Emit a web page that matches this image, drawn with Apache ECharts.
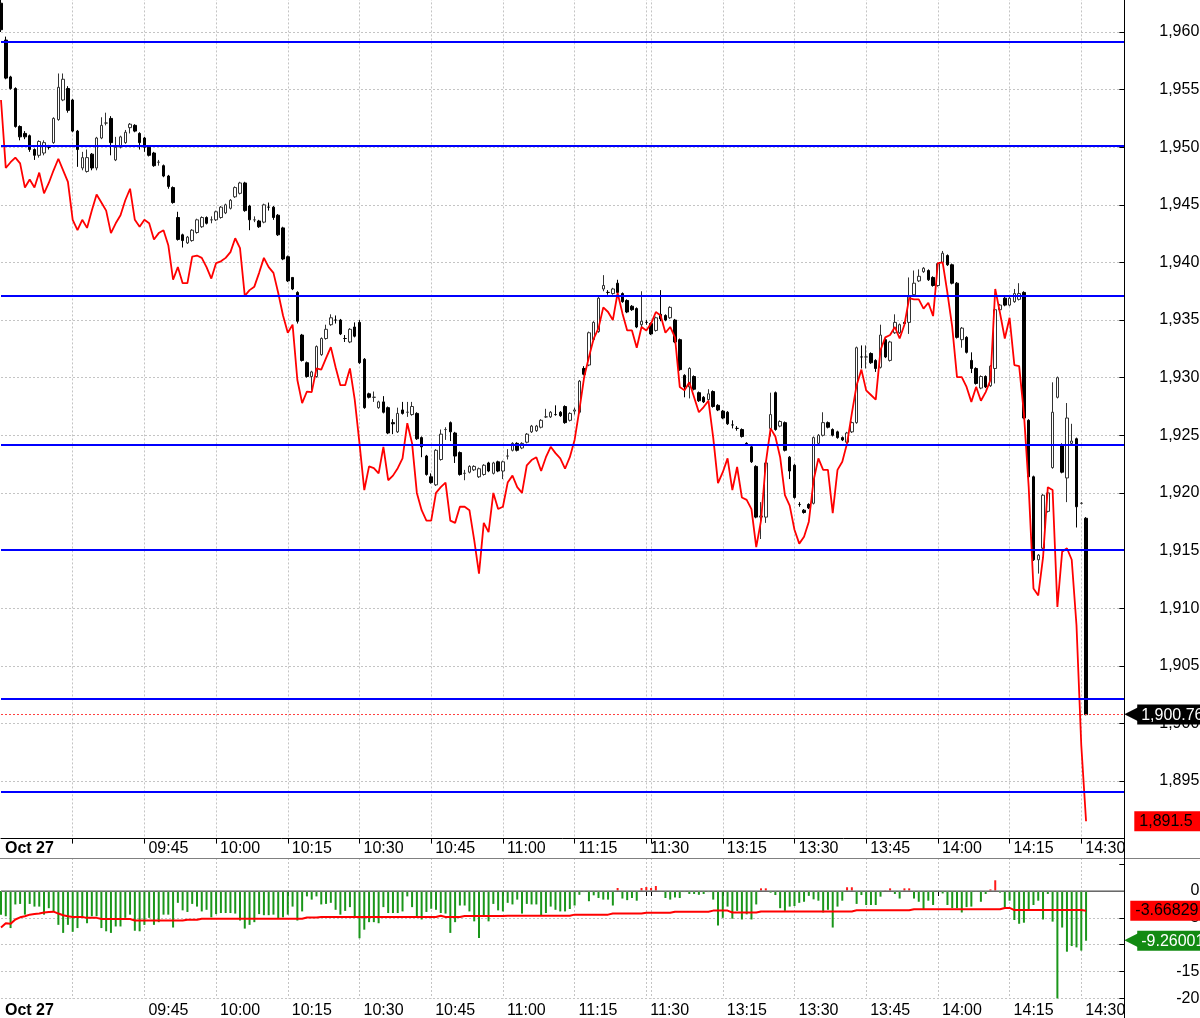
<!DOCTYPE html>
<html>
<head>
<meta charset="utf-8">
<title>Oct 27</title>
<script src="https://cdn.jsdelivr.net/npm/echarts@6/dist/echarts.min.js"></script>
<style>
  html, body { margin: 0; padding: 0; background: #fff; }
  #chart { width: 1200px; height: 1018px; }
</style>
</head>
<body>
<div id="chart"></div>
<script>
// trading sessions: [start, number of one-minute slots]
var sessions = [['09:15', 136], ['13:00', 100]];
var dateLabel = 'Oct 27';

// one-minute bars: [open, close, low, high]
var ohlc = [
  [1962.5,1960.2,1960.0,1963.0],[1959.3,1956.0,1955.9,1959.6],[1956.1,1955.1,1955.0,1956.2],[1955.1,1951.8,1951.7,1955.2],
  [1951.8,1950.9,1950.6,1951.9],[1951.2,1950.9,1950.7,1951.4],[1951.0,1949.8,1949.6,1951.1],[1949.8,1949.3,1948.9,1949.9],
  [1949.3,1950.5,1949.1,1950.6],[1949.5,1950.4,1949.3,1950.6],[1950.0,1950.0,1949.8,1950.2],[1950.4,1952.5,1950.3,1952.6],
  [1952.4,1955.2,1952.3,1956.4],[1954.1,1955.9,1954.0,1956.4],[1955.1,1953.2,1953.0,1955.3],[1954.1,1951.4,1951.3,1954.2],
  [1951.4,1949.8,1948.3,1951.5],[1948.2,1949.1,1948.0,1949.6],[1947.9,1949.1,1947.8,1949.8],[1949.4,1948.2,1948.0,1949.5],
  [1948.2,1950.8,1948.0,1950.9],[1950.8,1951.9,1950.7,1952.6],[1952.1,1952.1,1951.9,1953.0],[1952.5,1950.4,1949.3,1952.7],
  [1948.9,1950.0,1948.8,1950.9],[1950.0,1950.9,1949.9,1951.0],[1950.4,1951.3,1950.3,1951.5],[1951.7,1952.0,1951.2,1952.1],
  [1951.9,1951.4,1951.3,1952.0],[1951.2,1950.4,1949.8,1951.3],[1950.8,1950.0,1949.6,1950.9],[1950.0,1949.3,1949.2,1950.1],
  [1949.5,1948.4,1948.3,1949.6],[1948.7,1948.7,1948.4,1948.9],[1948.4,1947.5,1947.4,1948.5],[1947.5,1946.6,1946.4,1947.6],
  [1946.5,1945.2,1945.1,1946.6],[1943.9,1942.0,1941.9,1944.4],[1942.4,1941.9,1941.3,1942.5],[1941.7,1942.2,1941.6,1942.3],
  [1941.9,1942.8,1941.8,1942.9],[1942.6,1943.7,1942.5,1943.8],[1943.1,1943.9,1943.0,1944.0],[1943.9,1943.4,1943.3,1944.0],
  [1943.7,1943.7,1943.4,1944.0],[1943.7,1944.4,1943.6,1944.5],[1943.9,1944.8,1943.8,1944.9],[1944.3,1945.0,1944.2,1945.1],
  [1944.7,1945.4,1944.6,1945.5],[1945.7,1946.5,1945.6,1946.6],[1946.0,1946.9,1945.9,1947.0],[1946.9,1944.5,1944.4,1947.0],
  [1944.9,1943.7,1942.8,1945.0],[1943.7,1943.7,1943.5,1944.0],[1943.6,1943.1,1943.0,1943.7],[1943.5,1945.0,1943.4,1945.1],
  [1944.8,1944.8,1944.5,1945.2],[1944.8,1943.9,1943.7,1944.9],[1944.1,1942.4,1942.3,1944.2],[1943.0,1940.3,1940.2,1943.1],
  [1940.5,1938.4,1938.3,1940.6],[1938.7,1937.7,1937.6,1938.7],[1937.4,1934.9,1934.7,1937.5],[1933.7,1931.5,1931.4,1933.8],
  [1931.3,1930.1,1930.0,1931.4],[1930.1,1930.5,1928.9,1930.6],[1930.1,1932.7,1930.0,1932.8],[1932.0,1933.4,1931.9,1933.5],
  [1933.4,1934.2,1933.3,1934.6],[1934.6,1935.2,1934.5,1935.5],[1935.0,1935.0,1934.7,1935.4],[1935.0,1933.8,1933.7,1935.1],
  [1933.4,1933.4,1933.1,1933.7],[1933.1,1934.2,1933.0,1934.3],[1934.4,1933.6,1933.5,1934.8],[1934.8,1931.3,1931.2,1935.0],
  [1931.6,1927.4,1927.3,1931.7],[1928.6,1928.3,1928.2,1928.7],[1928.3,1928.3,1927.9,1928.8],[1927.4,1927.9,1927.3,1928.0],
  [1927.9,1927.0,1926.9,1928.4],[1927.4,1925.2,1925.1,1927.5],[1926.1,1926.0,1925.1,1926.4],[1925.3,1926.9,1925.2,1927.4],
  [1927.2,1926.9,1926.8,1927.9],[1927.0,1927.0,1926.6,1927.9],[1926.8,1927.5,1926.7,1927.9],[1926.9,1924.7,1924.6,1927.0],
  [1924.8,1924.0,1923.1,1924.9],[1923.2,1921.6,1921.5,1923.3],[1921.4,1920.9,1920.8,1921.7],[1920.7,1923.7,1920.6,1923.8],
  [1922.9,1925.1,1922.8,1925.5],[1925.5,1925.5,1924.6,1925.7],[1926.1,1925.3,1924.5,1926.2],[1925.2,1923.2,1922.6,1925.3],
  [1923.5,1921.6,1921.5,1923.6],[1921.7,1921.7,1921.1,1922.0],[1921.8,1922.3,1921.7,1922.4],[1922.0,1922.3,1921.9,1922.4],
  [1921.4,1922.1,1921.3,1922.2],[1921.6,1922.4,1921.5,1922.5],[1922.6,1921.9,1921.8,1922.7],[1921.7,1922.6,1921.6,1922.7],
  [1922.7,1921.9,1921.8,1922.8],[1921.9,1922.7,1921.2,1922.8],[1923.2,1923.2,1922.9,1923.8],[1923.7,1924.3,1923.6,1924.4],
  [1924.3,1923.7,1923.6,1924.4],[1923.9,1924.3,1923.8,1924.4],[1924.4,1925.1,1924.3,1925.2],[1925.3,1925.8,1925.2,1925.9],
  [1925.4,1925.8,1925.3,1925.9],[1925.7,1926.3,1925.6,1926.4],[1926.6,1926.6,1926.5,1927.3],[1926.6,1927.0,1926.5,1927.1],
  [1926.8,1926.8,1926.7,1927.6],[1927.0,1926.7,1926.6,1927.1],[1927.5,1926.1,1926.0,1927.6],[1926.3,1926.9,1926.2,1927.0],
  [1927.1,1927.2,1926.8,1927.4],[1927.0,1929.7,1926.9,1929.8],[1930.8,1930.3,1930.2,1931.0],[1931.1,1933.9,1931.0,1934.0],
  [1933.3,1934.8,1933.2,1934.9],[1934.0,1936.9,1933.9,1937.0],[1937.7,1938.0,1937.5,1938.9],[1937.4,1937.4,1937.2,1937.6],
  [1937.3,1937.7,1937.2,1937.8],[1938.2,1937.4,1937.2,1938.5],[1937.3,1936.6,1936.5,1937.4],[1936.7,1935.7,1935.6,1936.8],
  [1936.2,1935.9,1935.8,1936.3],[1936.0,1934.4,1934.3,1936.1],[1934.6,1934.9,1934.3,1937.5],[1934.8,1934.8,1934.6,1935.0],
  [1934.7,1933.8,1933.7,1934.8],[1934.1,1935.2,1934.0,1935.3],[1935.5,1935.1,1934.9,1937.6],[1935.4,1935.0,1934.9,1935.5],
  [1935.2,1936.1,1935.1,1936.2],[1935.0,1933.1,1933.0,1935.1],[1933.3,1930.7,1930.6,1933.4],[1930.2,1929.2,1928.3,1930.3],
  [1929.2,1930.8,1928.2,1930.9],[1930.1,1929.0,1928.9,1930.2],[1928.7,1928.0,1927.9,1928.8],[1928.3,1927.9,1927.8,1928.4],
  [1928.1,1928.6,1928.0,1929.0],[1928.8,1927.5,1927.4,1928.9],[1927.6,1927.2,1927.1,1927.7],[1927.1,1926.5,1926.4,1927.2],
  [1927.0,1926.0,1925.9,1927.1],[1925.9,1925.9,1925.6,1926.3],[1925.6,1925.6,1925.4,1925.8],[1925.5,1924.9,1924.8,1925.6],
  [1924.3,1924.2,1924.1,1924.4],[1924.0,1922.7,1922.6,1924.1],[1922.3,1917.9,1917.8,1922.4],[1917.9,1918.0,1916.0,1919.2],
  [1917.9,1922.6,1917.4,1922.7],[1925.6,1926.8,1924.9,1928.7],[1928.7,1925.5,1925.4,1928.8],[1925.8,1926.2,1925.7,1926.3],
  [1926.1,1923.7,1923.6,1926.2],[1923.1,1921.9,1921.2,1923.2],[1922.4,1919.6,1919.5,1922.5],[1919.0,1919.0,1918.8,1919.2],
  [1918.5,1918.3,1918.2,1918.6],[1919.0,1918.7,1918.6,1919.1],[1919.1,1924.8,1919.0,1924.9],[1924.3,1925.0,1924.2,1925.1],
  [1925.0,1926.1,1924.9,1927.0],[1926.1,1925.7,1925.6,1926.2],[1925.5,1925.0,1924.9,1925.6],[1925.3,1924.8,1924.7,1925.4],
  [1924.8,1924.6,1924.5,1924.9],[1924.4,1925.2,1924.3,1925.3],[1925.3,1926.1,1925.2,1926.2],[1926.1,1932.6,1926.0,1932.7],
  [1931.8,1931.8,1930.8,1932.8],[1931.8,1931.8,1930.8,1932.8],[1932.1,1931.3,1931.2,1932.2],[1931.5,1930.8,1930.5,1931.6],
  [1930.9,1933.7,1930.8,1934.6],[1933.3,1931.8,1931.7,1933.4],[1931.5,1933.1,1931.4,1933.2],[1933.9,1934.8,1933.8,1935.5],
  [1933.9,1934.6,1933.8,1934.7],[1934.8,1934.7,1934.6,1934.9],[1934.8,1937.0,1933.8,1938.7],[1937.2,1938.2,1937.1,1939.3],
  [1938.4,1938.8,1938.3,1939.4],[1939.2,1939.5,1939.1,1939.6],[1939.3,1938.5,1938.4,1939.4],[1938.7,1938.0,1937.9,1938.8],
  [1938.0,1939.9,1937.9,1940.0],[1940.0,1940.8,1939.9,1941.0],[1940.6,1939.8,1939.7,1940.7],[1939.8,1938.2,1938.1,1939.9],
  [1938.2,1933.5,1933.4,1938.3],[1933.3,1934.3,1932.6,1934.4],[1933.5,1932.2,1932.1,1933.6],[1931.5,1930.8,1930.4,1932.2],
  [1930.8,1929.5,1929.4,1930.9],[1929.1,1930.1,1929.0,1930.2],[1930.1,1929.2,1929.1,1930.2],[1929.3,1931.0,1929.2,1931.1],
  [1930.8,1935.9,1929.5,1936.0],[1935.9,1936.3,1935.8,1936.4],[1936.9,1936.3,1936.2,1937.0],[1936.3,1936.9,1936.2,1937.0],
  [1936.6,1937.3,1936.5,1937.7],[1936.8,1937.3,1936.7,1938.2],[1937.4,1926.5,1926.4,1937.5],[1926.3,1921.4,1921.3,1926.4],
  [1921.4,1914.2,1914.1,1921.5],[1914.2,1914.6,1913.0,1914.7],[1915.2,1919.8,1915.1,1919.9],[1918.4,1920.0,1918.3,1920.1],
  [1922.2,1927.0,1922.1,1929.6],[1928.3,1930.0,1928.2,1930.1],[1924.2,1921.8,1921.7,1924.3],[1921.3,1926.5,1919.2,1927.8],
  [1924.3,1924.5,1924.2,1926.0],[1924.7,1918.8,1917.0,1924.8],[1919.1,1919.1,1919.0,1919.2],[1917.8,1900.76,1900.7,1917.9]
];

// red overlay line, one value per bar
var redLine = [
  1954.1,1948.2,1948.7,1949.1,1948.6,1946.5,1947.2,1946.5,1947.8,1946.0,1946.9,1948.0,1949.0,1948.0,1947.0,1943.7,
  1942.8,1943.7,1943.0,1944.5,1945.9,1945.2,1944.5,1942.55,1943.4,1944.1,1945.4,1946.4,1943.7,1943.1,1943.7,1943.4,
  1942.0,1942.55,1942.8,1941.5,1938.5,1939.6,1938.2,1938.2,1940.5,1940.6,1940.4,1939.6,1938.6,1939.95,1940.1,1940.4,
  1940.9,1942.1,1941.25,1937.1,1937.6,1937.9,1939.1,1940.4,1939.6,1939.1,1937.35,1935.4,1933.9,1934.6,1929.8,1927.8,
  1928.8,1928.75,1930.8,1930.7,1931.7,1932.65,1930.9,1929.35,1929.35,1930.8,1928.1,1924.3,1920.25,1922.3,1922.15,1921.7,
  1924.0,1921.1,1921.5,1922.15,1923.0,1926.05,1924.3,1920.0,1918.5,1917.6,1917.6,1920.0,1920.5,1920.9,1917.6,1917.4,
  1918.8,1918.8,1918.5,1915.9,1913.0,1917.4,1916.6,1920.0,1918.6,1918.8,1920.9,1921.5,1920.5,1920.0,1922.4,1922.85,
  1923.1,1921.9,1923.1,1924.0,1923.45,1923.0,1922.1,1923.1,1924.6,1927.2,1930.05,1931.8,1933.4,1934.3,1936.1,1935.7,
  1935.0,1937.35,1935.6,1934.1,1934.1,1932.6,1934.4,1934.1,1934.7,1935.7,1935.4,1933.9,1934.4,1933.5,1929.2,1928.9,
  1929.6,1928.3,1927.0,1927.45,1928.0,1924.8,1920.85,1921.8,1923.0,1920.25,1922.25,1919.6,1919.4,1918.6,1915.3,1917.6,
  1922.6,1925.6,1924.9,1923.1,1919.8,1918.9,1916.8,1915.6,1916.2,1917.5,1921.1,1923.0,1922.0,1922.0,1918.25,1922.0,
  1922.7,1924.3,1926.9,1929.35,1930.7,1928.9,1928.5,1928.1,1932.4,1933.5,1933.7,1934.4,1933.4,1934.6,1936.9,1936.8,
  1936.8,1936.0,1936.5,1935.35,1939.95,1940.0,1937.35,1934.4,1930.05,1930.05,1929.2,1927.9,1929.2,1928.0,1928.75,1929.8,
  1937.7,1935.6,1933.4,1935.2,1931.1,1931.0,1926.9,1920.5,1911.7,1911.1,1914.4,1920.5,1920.25,1910.1,1914.9,1915.2,
  1914.2,1908.5,1898.1,1891.5
];

// horizontal support / resistance levels
var levels = [1959.13, 1950.1, 1937.08, 1924.15, 1915.1, 1902.1, 1894.1];

// lower panel: histogram and its average line
var histValues = [
  -4.4,-4.7,-6.9,-2.5,-2.4,-4.4,-2.4,-2.9,-2.9,-4.4,-3.2,-3.8,-6.3,-7.8,-6.3,-7.6,
  -6.9,-5.0,-6.0,-4.7,-4.7,-6.9,-7.5,-7.8,-6.6,-6.6,-5.0,-4.4,-7.4,-7.5,-6.3,-5.0,
  -6.3,-5.8,-4.4,-4.4,-6.8,-2.2,-3.6,-3.9,-2.4,-2.9,-3.8,-3.5,-4.9,-4.3,-4.1,-4.1,
  -4.1,-4.2,-5.5,-7.0,-6.3,-5.8,-4.3,-4.5,-4.5,-4.4,-5.2,-4.9,-4.4,-2.9,-5.5,-3.8,
  -1.0,-1.6,-1.0,-2.5,-2.4,-2.2,-3.5,-4.4,-3.7,-3.0,-4.7,-8.8,-7.2,-5.8,-5.8,-6.0,
  -3.0,-4.1,-4.1,-4.1,-3.8,-1.0,-3.0,-4.9,-5.3,-3.9,-3.3,-3.5,-4.1,-4.2,-7.8,-5.8,
  -2.7,-2.7,-3.8,-5.65,-8.75,-4.7,-5.65,-2.4,-3.6,-3.8,-2.2,-2.5,-1.6,-4.2,-2.4,-2.5,
  -2.5,-4.5,-4.1,-2.9,-3.5,-3.8,-3.8,-3.35,-2.7,-0.7,-0.2,-1.9,-0.8,-1.3,-1.6,-1.6,
  -2.7,0.56,-1.4,-1.7,-1.3,-1.8,0.56,0.75,0.56,0.93,-0.1,-1.3,-1.6,-1.2,-1.3,-0.2,
  -0.55,-0.55,-0.7,-0.55,-0.2,-1.6,-6.4,-5.0,-2.9,-5.15,-3.7,-5.3,-4.35,-5.3,-2.5,0.5,
  0.5,-0.3,-0.75,-3.2,-3.7,-2.9,-2.8,-2.2,-2.0,-0.9,-1.55,-1.8,-4.0,-3.5,-6.8,-2.9,
  -1.8,0.7,0.7,-2.4,-0.75,-2.6,-2.6,-2.6,-1.05,0.1,0.5,-0.55,-1.4,0.5,0.5,-1.4,
  -2.0,-3.5,-1.8,-2.6,-0.1,-0.45,-2.6,-3.2,-3.2,-4.0,-3.0,-2.9,-0.1,-2.0,-0.55,0.3,
  2.0,-0.3,-3.0,-1.8,-5.4,-6.1,-5.9,-3.7,-2.6,-1.8,-5.3,-0.55,-5.7,-20.0,-6.8,-11.3,
  -10.25,-10.5,-11.1,-9.26001
];
var histAverage = [
  -6.8,-6.0,-6.1,-5.3,-4.9,-4.7,-4.4,-4.3,-4.2,-4.0,-3.9,-3.85,-4.2,-4.5,-4.7,-4.85,
  -4.85,-4.85,-5.0,-5.0,-5.0,-5.2,-5.2,-5.2,-5.2,-5.2,-5.2,-5.2,-5.5,-5.5,-5.5,-5.5,
  -5.5,-5.5,-5.5,-5.5,-5.5,-5.5,-5.5,-5.35,-5.35,-5.35,-5.15,-5.15,-5.15,-5.15,-5.15,-5.15,
  -5.15,-5.15,-5.15,-5.15,-5.15,-5.15,-5.15,-5.15,-5.15,-5.15,-5.15,-5.15,-5.15,-5.15,-5.15,-5.15,
  -4.95,-4.95,-4.95,-4.85,-4.85,-4.85,-4.85,-4.85,-4.85,-4.85,-4.85,-4.85,-4.85,-4.85,-4.85,-4.85,
  -4.85,-4.85,-4.85,-4.85,-4.85,-4.85,-4.85,-4.85,-4.85,-4.85,-4.85,-4.85,-4.6,-4.85,-4.85,-4.85,
  -4.85,-4.65,-4.65,-4.65,-4.65,-4.65,-4.65,-4.65,-4.65,-4.65,-4.6,-4.6,-4.6,-4.6,-4.6,-4.6,
  -4.6,-4.6,-4.6,-4.6,-4.6,-4.6,-4.6,-4.6,-4.4,-4.4,-4.4,-4.4,-4.4,-4.4,-4.4,-4.4,
  -4.2,-4.2,-4.2,-4.2,-4.2,-4.2,-4.2,-4.05,-4.05,-4.05,-4.05,-4.05,-4.05,-3.85,-3.85,-3.85,
  -3.85,-3.85,-3.85,-3.85,-3.85,-3.65,-3.65,-3.65,-3.65,-4.0,-4.0,-4.0,-4.0,-4.0,-4.0,-3.8,
  -3.8,-3.8,-3.8,-3.8,-3.8,-3.8,-3.8,-3.8,-3.8,-3.8,-3.8,-3.8,-3.8,-3.8,-3.8,-3.8,
  -3.8,-3.8,-3.8,-3.6,-3.6,-3.6,-3.6,-3.6,-3.6,-3.6,-3.6,-3.6,-3.6,-3.6,-3.6,-3.4,
  -3.4,-3.4,-3.4,-3.4,-3.4,-3.4,-3.4,-3.4,-3.4,-3.4,-3.4,-3.4,-3.4,-3.4,-3.4,-3.4,
  -3.4,-3.4,-3.15,-3.15,-3.55,-3.55,-3.55,-3.55,-3.55,-3.55,-3.55,-3.55,-3.55,-3.55,-3.55,-3.55,
  -3.55,-3.55,-3.55,-3.66829
];

function pad(n) { return (n < 10 ? '0' : '') + n; }

function buildTimes() {
  var out = [];
  sessions.forEach(function (s) {
    var p = s[0].split(':');
    var start = +p[0] * 60 + +p[1];
    for (var k = 0; k < s[1]; k++) {
      var t = start + k;
      out.push(pad(Math.floor(t / 60)) + ':' + pad(t % 60));
    }
  });
  return out;
}

var times = buildTimes();
var sessionStarts = [0, sessions[0][1]];   // 09:15 and 13:00 get a grid line but no time label
var FONT = '"Liberation Sans", Arial, sans-serif';
var HIDDEN = 'rgba(0,0,0,0)';

function isQuarter(idx) { return +times[idx].slice(3) % 15 === 0; }
function showLabel(idx) { return idx === 0 || (isQuarter(idx) && idx !== 15 && sessionStarts.indexOf(idx) < 0); }
function showTick(idx) { return idx !== 0 && isQuarter(idx); }

function xAxisFor(gridIndex) {
  return {
    type: 'category',
    gridIndex: gridIndex,
    data: times,
    boundaryGap: false,
    axisLine: { lineStyle: { color: '#000', width: 1 } },
    axisTick: { interval: function (i) { return showTick(i); }, length: 5, lineStyle: { color: '#000' } },
    axisLabel: {
      interval: function (i) { return showLabel(i); },
      formatter: function (v, i) { return i === 0 ? '{b|' + dateLabel + '}' : v; },
      align: 'left',
      padding: [0, 0, 0, 4],
      margin: gridIndex === 0 ? 2 : 4,
      color: '#000',
      fontSize: 16,
      fontFamily: FONT,
      rich: { b: { fontWeight: 'bold', fontSize: 16, fontFamily: FONT, color: '#000' } }
    },
    splitLine: {
      show: true,
      interval: function (i) { return showTick(i); },
      lineStyle: { color: '#c4c4c4', type: [2, 2], width: 1 }
    }
  };
}

function fmt(v) { return v.toLocaleString('en-US', { maximumFractionDigits: 5 }); }

// price tag with a left-pointing arrow, hung on the right axis
function arrowTag(text, bg, fg) {
  return {
    show: true, position: 'end', distance: 0,
    formatter: '{a|\u25C0}{b|' + text + '}',
    rich: {
      a: { color: bg, fontSize: 22, lineHeight: 20, fontFamily: 'DejaVu Sans', padding: [0, -4, 0, 0] },
      b: { backgroundColor: bg, color: fg, fontSize: 16, fontFamily: FONT, padding: [3, 4, 1, 4] }
    }
  };
}

function boxTag(text, distance) {
  return {
    show: true, position: 'end', distance: distance, formatter: text,
    backgroundColor: '#ff0000', color: '#000', fontSize: 16, fontFamily: FONT, padding: [3, 8, 1, 5]
  };
}

var lastClose = ohlc[ohlc.length - 1][1];
var lastRed = redLine[redLine.length - 1];
var lastHist = histValues[histValues.length - 1];
var lastAvg = histAverage[histAverage.length - 1];

var chart = echarts.init(document.getElementById('chart'), null, { renderer: 'canvas' });

chart.setOption({
  animation: false,
  backgroundColor: '#fff',
  grid: [
    { left: 1, top: -25.6, width: 1123.3, height: 864.2, outerBoundsMode: 'none', containLabel: false },
    { left: 1, top: 858, width: 1123.3, height: 140.4, outerBoundsMode: 'none', containLabel: false }
  ],
  xAxis: [xAxisFor(0), xAxisFor(1)],
  yAxis: [
    {
      type: 'value', gridIndex: 0, position: 'right',
      min: 1890, max: 1965, interval: 5,
      axisLine: { show: true, lineStyle: { color: '#000' } },
      axisTick: { show: true, inside: true, length: 5, lineStyle: { color: '#000' } },
      axisLabel: {
        showMinLabel: false, showMaxLabel: false,
        align: 'right', margin: 75, color: '#000', fontSize: 16, fontFamily: FONT,
        formatter: function (v) { return fmt(v); }
      },
      splitLine: { show: true, lineStyle: { color: '#c4c4c4', type: [2, 2], width: 1 } }
    },
    {
      type: 'value', gridIndex: 1, position: 'right',
      min: -20, max: 6.15, interval: 5,
      axisLine: { show: true, lineStyle: { color: '#000' } },
      axisTick: { show: true, inside: true, length: 5, lineStyle: { color: '#000' } },
      axisLabel: {
        showMaxLabel: false,
        align: 'right', margin: 75, color: '#000', fontSize: 16, fontFamily: FONT,
        formatter: function (v) { return v > 0 ? '' : String(v); }
      },
      splitLine: {
        show: true,
        lineStyle: {
          color: ['#c4c4c4', '#c4c4c4', '#c4c4c4', '#c4c4c4', '#c4c4c4', HIDDEN, HIDDEN],
          type: [2, 2], width: 1
        }
      }
    }
  ],
  series: [
    {
      name: 'price',
      type: 'candlestick',
      xAxisIndex: 0, yAxisIndex: 0,
      data: ohlc,
      barWidth: 3,
      z: 2,
      itemStyle: { color: '#fff', color0: '#000', borderColor: '#333', borderColor0: '#000', borderWidth: 1 },
      markLine: {
        silent: true, symbol: 'none', animation: false,
        data: [{ yAxis: lastClose }],
        lineStyle: { color: '#ff4040', type: [2, 2], width: 1 },
        label: arrowTag(fmt(lastClose), '#000', '#fff')
      }
    },
    {
      name: 'overlay',
      type: 'line',
      xAxisIndex: 0, yAxisIndex: 0,
      data: redLine,
      symbol: 'none',
      z: 3,
      lineStyle: { color: '#ff0000', width: 1.8 },
      markLine: {
        silent: true, symbol: 'none', animation: false,
        data: levels.map(function (v) { return { yAxis: v }; }),
        lineStyle: { color: '#0000ff', type: 'solid', width: 1.8 },
        label: { show: false }
      }
    },
    {
      name: 'overlay-last',
      type: 'line',
      xAxisIndex: 0, yAxisIndex: 0,
      data: [],
      markLine: {
        silent: true, symbol: 'none', animation: false,
        data: [{ yAxis: lastRed }],
        lineStyle: { color: HIDDEN, width: 1 },
        label: boxTag(fmt(lastRed), 10)
      }
    },
    {
      name: 'hist',
      type: 'bar',
      xAxisIndex: 1, yAxisIndex: 1,
      data: histValues,
      barWidth: 2,
      z: 2,
      itemStyle: { color: function (p) { return p.value >= 0 ? '#ff1a1a' : '#1a961a'; } },
      markLine: {
        silent: true, symbol: 'none', animation: false,
        data: [{ yAxis: 0 }],
        lineStyle: { color: '#8c8c8c', width: 1.5, type: 'solid' },
        label: { show: false }
      }
    },
    {
      name: 'hist-last',
      type: 'line',
      xAxisIndex: 1, yAxisIndex: 1,
      data: [],
      markLine: {
        silent: true, symbol: 'none', animation: false,
        data: [{ yAxis: lastHist }],
        lineStyle: { color: HIDDEN, width: 1 },
        label: arrowTag(fmt(lastHist), '#128a12', '#fff')
      }
    },
    {
      name: 'average',
      type: 'line',
      xAxisIndex: 1, yAxisIndex: 1,
      data: histAverage,
      symbol: 'none',
      z: 3,
      lineStyle: { color: '#ff0000', width: 2 },
      markLine: {
        silent: true, symbol: 'none', animation: false,
        data: [{ yAxis: lastAvg }],
        lineStyle: { color: HIDDEN, width: 1 },
        label: boxTag(fmt(lastAvg), 6)
      }
    }
  ],
  graphic: [
    { type: 'line', silent: true, z: 10, shape: { x1: 0, y1: 858.5, x2: 1200, y2: 858.5 }, style: { stroke: '#808080', lineWidth: 1 } },
    { type: 'line', silent: true, z: 10, shape: { x1: 1124.5, y1: 0, x2: 1124.5, y2: 1018 }, style: { stroke: '#000', lineWidth: 1 } }
  ]
});
</script>
</body>
</html>
